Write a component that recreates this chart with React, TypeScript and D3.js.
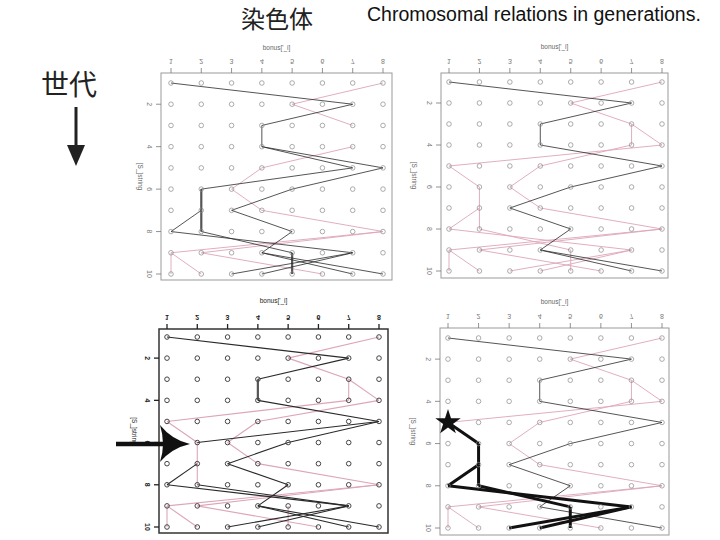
import React from "react";
import * as d3 from "d3";

const COLS = [1, 2, 3, 4, 5, 6, 7, 8];
const ROWS = [1, 2, 3, 4, 5, 6, 7, 8, 9, 10];
const X_TICK_LABELS = ["1", "2", "3", "4", "5", "6", "7", "8"];
const Y_TICKS = [2, 4, 6, 8, 10];
const X_TITLE = "bonus['_i]";
const Y_TITLE = "[S_]string";

// segments: [row, fromCol, toCol] -> from (row, fromCol) to (row+1, toCol)
const P1_BLACK = [[1,1,7],[2,7,4],[3,4,4],[4,4,7],[4,4,8],[5,7,2],[5,8,5],[6,5,3],[7,3,5],[7,2,1],[8,1,7],[8,2,5],[8,5,4],[9,4,7],[9,4,8],[9,7,3],[9,7,4]];
const P1_GRAY = [[6,2,2],[7,2,2],[9,5,5]];
const P1_PINK = [[1,8,5],[2,5,7],[4,7,4],[5,4,3],[6,3,4],[7,4,8],[8,8,1],[8,8,2],[9,1,1],[9,1,2],[9,2,6]];

const P2_BLACK = [[1,1,7],[2,7,4],[3,4,4],[4,4,8],[5,8,5],[6,5,3],[7,3,5],[8,5,4],[9,4,7],[9,4,8]];
const P2_GRAY: number[][] = [];
const P2_PINK = [[1,8,5],[2,5,7],[3,7,7],[3,7,8],[4,7,4],[4,8,1],[5,1,2],[5,4,3],[6,2,2],[6,3,4],[7,2,1],[7,2,2],[7,4,8],[8,1,7],[8,2,5],[8,8,1],[8,8,2],[9,1,1],[9,1,2],[9,2,6],[9,7,3],[9,7,4],[9,5,5]];

const P3_BLACK = [[1,1,7],[2,7,4],[4,4,8],[5,8,2],[5,8,5],[6,5,3],[7,2,1],[7,3,5],[8,1,7],[8,2,7],[8,5,4],[9,4,7],[9,4,8],[9,7,3],[9,7,4]];
const P3_GRAY = [[3,4,4]];
const P3_PINK = [[1,8,5],[2,5,7],[3,7,7],[3,7,8],[4,7,1],[4,8,4],[5,1,2],[5,4,3],[6,2,2],[6,3,4],[7,2,2],[7,4,8],[8,8,1],[8,8,2],[9,1,1],[9,1,2],[9,2,6],[9,5,5]];

const P4_BLACK = [[1,1,7],[2,7,4],[3,4,4],[4,4,8],[5,8,5],[6,5,3],[7,3,5],[8,5,4],[9,4,8]];
const P4_PINK = [[1,8,5],[2,5,7],[3,7,7],[3,7,8],[4,7,4],[4,8,1],[5,4,3],[6,3,4],[7,4,8],[8,8,1],[8,8,2],[9,1,1],[9,1,2],[9,2,6]];
const P4_THICK = [[5,1,2],[6,2,2],[7,2,1],[7,2,2],[8,1,7],[8,2,5],[9,5,5],[9,7,3],[9,7,4]];
const P4_STAR = [5, 1];

type PanelCfg = {
  box: [number, number, number, number];
  cols: [number, number];
  rows: [number, number];
  black: number[][];
  gray: number[][];
  pink: number[][];
  thick: number[][];
  star?: number[];
  dark: boolean;
  titleY: number;
  yTitleX: number;
};

const PANELS: PanelCfg[] = [
  { box: [161, 73, 392, 280], cols: [171, 383], rows: [83, 274], black: P1_BLACK, gray: P1_GRAY, pink: P1_PINK, thick: [], dark: false, titleY: 47, yTitleX: 140 },
  { box: [441, 73, 668, 278], cols: [449, 662], rows: [82, 271], black: P2_BLACK, gray: P2_GRAY, pink: P2_PINK, thick: [], dark: false, titleY: 46, yTitleX: 414 },
  { box: [159, 329, 388, 533], cols: [167, 379], rows: [337, 527], black: P3_BLACK, gray: P3_GRAY, pink: P3_PINK, thick: [], dark: true, titleY: 300, yTitleX: 134 },
  { box: [440, 328, 669, 535], cols: [448, 662], rows: [338, 528], black: P4_BLACK, gray: [], pink: P4_PINK, thick: P4_THICK, star: P4_STAR, dark: false, titleY: 301, yTitleX: 413 },
];

function Panel({ cfg }: { cfg: PanelCfg }) {
  const x = d3.scaleLinear().domain([1, 8]).range(cfg.cols);
  const y = d3.scaleLinear().domain([1, 10]).range(cfg.rows);
  const [bx0, by0, bx1, by1] = cfg.box;
  const seg = (s: number[], color: string, w: number, key: string) => (
    <line key={key} x1={x(s[1])} y1={y(s[0])} x2={x(s[2])} y2={y(s[0] + 1)} stroke={color} strokeWidth={w} />
  );
  const axisColor = cfg.dark ? "#222" : "#777";
  const circColor = cfg.dark ? "#444" : "#8a8a8a";
  const starPath = d3.symbol().type(d3.symbolStar).size(200)();
  return (
    <g>
      <rect x={bx0} y={by0} width={bx1 - bx0} height={by1 - by0} fill="none" stroke={cfg.dark ? "#333" : "#999"} strokeWidth={cfg.dark ? 1.5 : 1} />
      {COLS.map((c, i) => (
        <g key={"xt" + c}>
          <line x1={x(c)} x2={x(c)} y1={by0 - 5} y2={by0} stroke={axisColor} strokeWidth={cfg.dark ? 1.3 : 0.8} />
          <text transform={`translate(${x(c)},${by0 - 12}) scale(1,-1)`} textAnchor="middle" dominantBaseline="central" fontSize={7} fontFamily="Liberation Sans, Arial, sans-serif" fill={axisColor} fontWeight={cfg.dark ? "bold" : "normal"}>{X_TICK_LABELS[i]}</text>
        </g>
      ))}
      {Y_TICKS.map((r) => (
        <g key={"yt" + r}>
          <line x1={bx0 - 5} x2={bx0} y1={y(r)} y2={y(r)} stroke={axisColor} strokeWidth={cfg.dark ? 1.3 : 0.8} />
          <text transform={`translate(${bx0 - 12},${y(r)}) rotate(90)`} textAnchor="middle" dominantBaseline="central" fontSize={7} fontFamily="Liberation Sans, Arial, sans-serif" fill={axisColor} fontWeight={cfg.dark ? "bold" : "normal"}>{r}</text>
        </g>
      ))}
      <text x={(bx0 + bx1) / 2} y={cfg.titleY} textAnchor="middle" dominantBaseline="central" fontSize={6.5} fontFamily="Liberation Sans, Arial, sans-serif" fill={cfg.dark ? "#222" : "#666"}>{X_TITLE}</text>
      <text transform={`translate(${cfg.yTitleX},${(by0 + by1) / 2}) rotate(90)`} textAnchor="middle" dominantBaseline="central" fontSize={6.5} fontFamily="Liberation Sans, Arial, sans-serif" fill={cfg.dark ? "#222" : "#666"}>{Y_TITLE}</text>
      {cfg.pink.map((s, i) => seg(s, "#dca6b8", cfg.dark ? 1.1 : 0.9, "p" + i))}
      {cfg.gray.map((s, i) => seg(s, "#555", 2.2, "g" + i))}
      {cfg.black.map((s, i) => seg(s, "#2a2a2a", cfg.dark ? 1.1 : 0.8, "b" + i))}
      {cfg.thick.map((s, i) => seg(s, "#111", 3, "t" + i))}
      {ROWS.map((r) =>
        COLS.map((c) => (
          <circle key={r + "-" + c} cx={x(c)} cy={y(r)} r={2.3} fill="white" fillOpacity={0} stroke={circColor} strokeWidth={cfg.dark ? 1 : 0.7} />
        ))
      )}
      {cfg.star && (
        <path d={starPath || ""} transform={`translate(${x(cfg.star[1])},${y(cfg.star[0])})`} fill="#111" />
      )}
    </g>
  );
}

export default function App() {
  return (
    <svg width={720} height={540} style={{ position: "absolute", left: 0, top: 0, background: "white" }}>
      <rect width={720} height={540} fill="white" />
      <text x={277} y={28} textAnchor="middle" fontSize={24} fontFamily="Noto Sans CJK SC, sans-serif" fill="#222">染色体</text>
      <text x={367} y={21} fontSize={19.5} fontFamily="Liberation Sans, Arial, sans-serif" fill="#111">Chromosomal relations in generations.</text>
      <text x={69} y={95} textAnchor="middle" fontSize={28} fontFamily="Noto Sans CJK SC, sans-serif" fill="#222">世代</text>
      <line x1={76} y1={107} x2={76} y2={148} stroke="#222" strokeWidth={3} />
      <path d="M 67 145 L 85 145 L 76 166 Z" fill="#222" />
      {PANELS.map((p, i) => (
        <Panel key={i} cfg={p} />
      ))}
      <line x1={116} y1={444} x2={170} y2={444} stroke="#111" strokeWidth={4.5} />
      <path d="M 160 425 Q 172 440 190 444 Q 172 448 160 462 Q 166 444 160 425 Z" fill="#111" />
    </svg>
  );
}
